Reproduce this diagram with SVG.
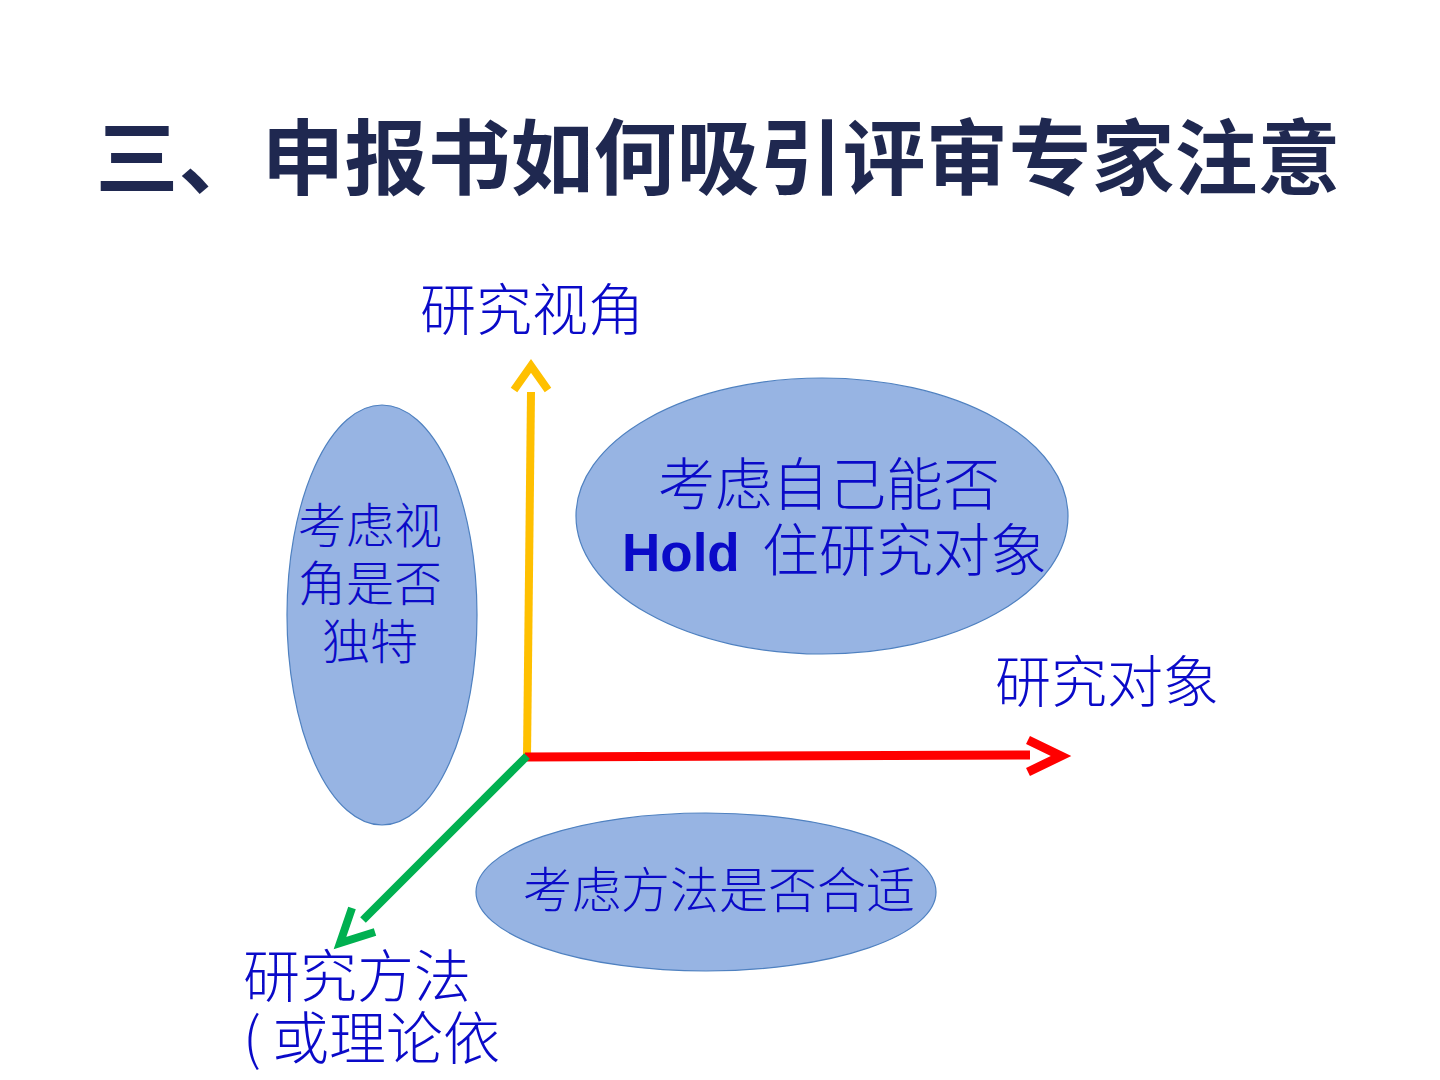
<svg xmlns="http://www.w3.org/2000/svg" width="1440" height="1080" viewBox="0 0 1440 1080">
<style>
.t{font-family:"Noto Sans CJK SC","Liberation Sans",sans-serif;fill:#0a0ac8;font-weight:300}
.title{font-family:"Noto Sans CJK SC",sans-serif;font-weight:bold;fill:#1f2850;font-size:82px}
.ell{fill:#97b4e3;stroke:#4f81c0;stroke-width:1.2}
.ax{fill:none;stroke-linecap:butt;stroke-linejoin:miter}
</style>
<rect width="1440" height="1080" fill="#ffffff"/>
<text class="title" x="718" y="188" text-anchor="middle" textLength="1245" lengthAdjust="spacingAndGlyphs">三、申报书如何吸引评审专家注意</text>
<g id="node-left">
<ellipse class="ell" cx="382" cy="615" rx="95" ry="210"/>
<text class="t" font-size="48" x="370" y="543" text-anchor="middle">考虑视</text>
<text class="t" font-size="48" x="370" y="601" text-anchor="middle">角是否</text>
<text class="t" font-size="48" x="370" y="659" text-anchor="middle">独特</text>
</g>
<g id="node-top">
<ellipse class="ell" cx="822" cy="516" rx="246" ry="138"/>
<text class="t" font-size="57" x="829" y="505" text-anchor="middle">考虑自己能否</text>
<text class="t" font-size="57" x="622" y="571"><tspan font-family="Liberation Sans,sans-serif" font-weight="bold" font-size="53">Hold</tspan><tspan x="762">住研究对象</tspan></text>
</g>
<g id="node-bottom">
<ellipse class="ell" cx="706" cy="892" rx="230" ry="79"/>
<text class="t" font-size="49" x="719" y="908" text-anchor="middle">考虑方法是否合适</text>
</g>
<g id="connectors">
<path class="ax" d="M527 757 L531 392" stroke="#ffc000" stroke-width="8"/>
<path class="ax" d="M514 390 L531 366 L548 390" stroke="#ffc000" stroke-width="8"/>
<path class="ax" d="M525 757 L1030 755" stroke="#ff0000" stroke-width="9"/>
<path class="ax" d="M1028 740 L1061 756 L1028 772" stroke="#ff0000" stroke-width="9"/>
<path class="ax" d="M527 756 L363 920" stroke="#00b050" stroke-width="8"/>
<path class="ax" d="M352 908 L340 943 L375 932" stroke="#00b050" stroke-width="8"/>
</g>
<g id="labels">
<text class="t" font-size="56" x="420" y="330">研究视角</text>
<text class="t" font-size="56" x="995" y="702">研究对象</text>
<text class="t" font-size="57" x="243" y="997">研究方法</text>
<text class="t" font-size="57" x="243" y="1059">(<tspan x="272">或理论依</tspan></text>
</g>
</svg>
